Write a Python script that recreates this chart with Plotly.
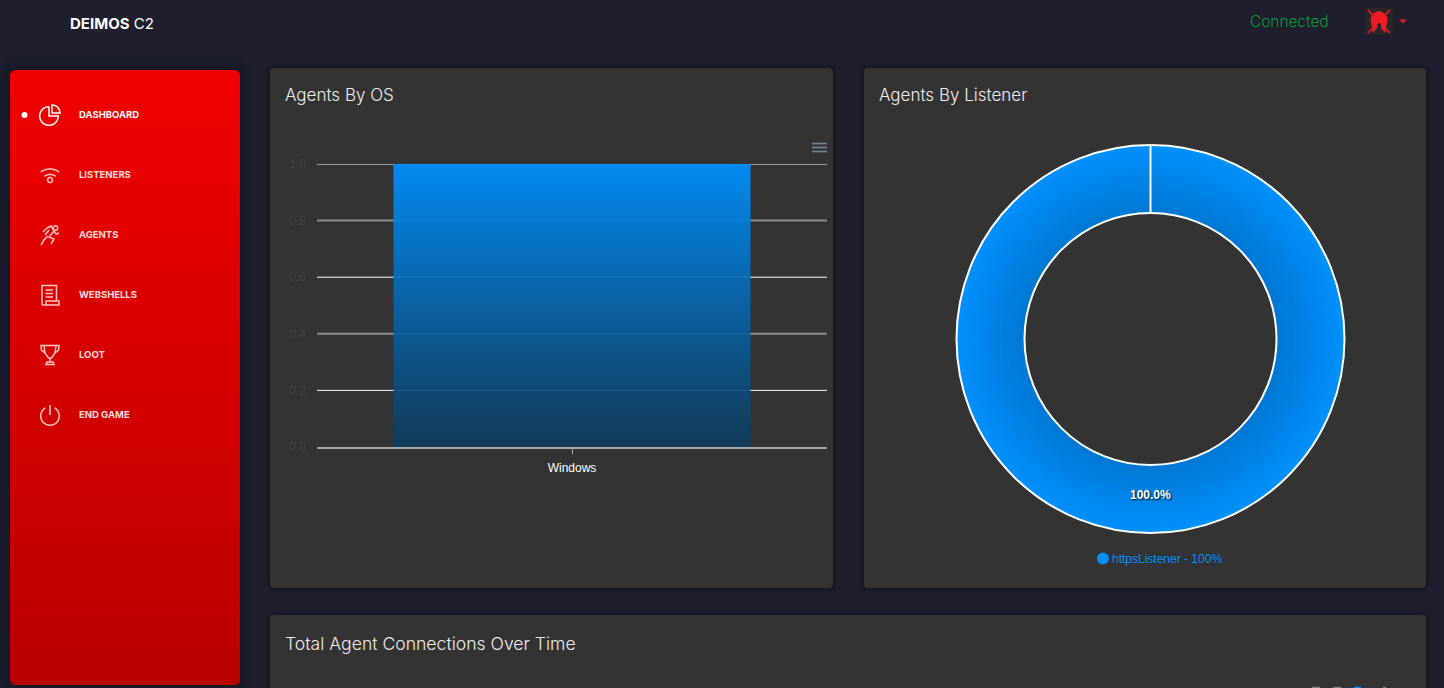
import math
import plotly.graph_objects as go

# values
os_names = ["Windows"]
os_values = [1.0]
y_ticks = [0.0, 0.2, 0.4, 0.6, 0.8, 1.0]
listener_names = ["httpsListener"]
listener_values = [100]
menu_items = ["DASHBOARD", "LISTENERS", "AGENTS", "WEBSHELLS", "LOOT", "END GAME"]

PAGE = "#1e1e2e"
PANEL = "#333333"
FONT = "Inter"
ring_colors = ["#008ffb", "#008df8", "#008bf4", "#0089f1", "#0087ed", "#0085ea", "#0083e6", "#0081e3",
               "#007fdf", "#007ddc", "#007bd8", "#0079d5"]
grid_styles = {0.2: ("#ffffff", 1), 0.4: ("#8c8c8c", 2),
               0.6: ("#ffffff", 1), 0.8: ("#8c8c8c", 2), 1.0: ("#ffffff", 1)}


def round_rect(x0, y0, x1, y1, r):
    return (f"M {x0+r} {y0} L {x1-r} {y0} Q {x1} {y0} {x1} {y0+r} L {x1} {y1-r} Q {x1} {y1} {x1-r} {y1} "
            f"L {x0+r} {y1} Q {x0} {y1} {x0} {y1-r} L {x0} {y0+r} Q {x0} {y0} {x0+r} {y0} Z")


def arc(cx, cy, r, a0, a1, n=24):
    pts = []
    for i in range(n + 1):
        a = math.radians(a0 + (a1 - a0) * i / n)
        pts.append((cx + r * math.sin(a), cy - r * math.cos(a)))
    return pts


def poly(pts, close=False):
    return "M " + " L ".join(f"{x:.1f} {y:.1f}" for x, y in pts) + (" Z" if close else "")


shapes = []


def add_path(path, color=None, width=1.5, fill=None, layer="above"):
    shapes.append(dict(type="path", path=path, xref="x", yref="y", layer=layer,
                       line=dict(color=color or "rgba(0,0,0,0)", width=width if color else 0),
                       fillcolor=fill or "rgba(0,0,0,0)"))


# soft shadows then the cards
for spread, alpha in [(14, 0.04), (10, 0.05), (6, 0.07), (3, 0.08)]:
    add_path(round_rect(10 - spread, 70 - spread, 240 + spread, 685 + spread, 6 + spread),
             fill=f"rgba(10,14,20,{alpha})", layer="below")
    add_path(round_rect(270 - spread / 2, 68 - spread / 2, 833 + spread / 2, 588 + spread / 2, 4 + spread),
             fill=f"rgba(10,14,20,{alpha})", layer="below")
    add_path(round_rect(864 - spread / 2, 68 - spread / 2, 1426 + spread / 2, 588 + spread / 2, 4 + spread),
             fill=f"rgba(10,14,20,{alpha})", layer="below")
    add_path(round_rect(270 - spread / 2, 615 - spread / 2, 1426 + spread / 2, 720, 4 + spread),
             fill=f"rgba(10,14,20,{alpha})", layer="below")
add_path(round_rect(270, 68, 833, 588, 4), fill=PANEL, layer="below")
add_path(round_rect(864, 68, 1426, 588, 4), fill=PANEL, layer="below")
add_path(round_rect(270, 615, 1426, 720, 4), fill=PANEL, layer="below")

# sidebar icons
WHITE = "#ffffff"
SOFT = "#ffc4c4"
# dashboard pie
add_path(poly(arc(49, 116, 9.3, 85, 360)), WHITE)
add_path(poly([(49, 106.7), (49, 116), (58.3, 116)]), WHITE)
add_path(poly([(52, 105)] + arc(52, 113, 8, 0, 90, 12) + [(52, 113)], True), WHITE)
# wifi
add_path(poly(arc(50, 184, 15, -38, 38)), SOFT)
add_path(poly(arc(50, 184, 9.5, -38, 38)), SOFT)
add_path(poly(arc(50, 180, 2.5, 0, 360)), SOFT)
# runner
add_path(poly(arc(55.5, 228, 2.2, 0, 360)), SOFT)
add_path(poly([(47, 228), (51, 226), (54, 231), (49, 237), (54, 239), (51, 244)]), SOFT)
add_path(poly([(48, 236), (44, 240), (41, 245)]), SOFT)
add_path(poly([(43, 232), (47, 228)]), SOFT)
add_path(poly([(54, 231), (56, 234), (59, 233)]), SOFT)
add_path(poly([(45, 235), (49, 230)]), SOFT)
# scroll
add_path(poly([(42, 305), (42, 285.5), (56.5, 285.5), (56.5, 301)]), SOFT)
add_path(poly([(42, 305), (59, 305), (59, 301), (46, 301), (46, 305)]), SOFT)
for yy in (290, 293.5, 297):
    add_path(poly([(45.5, yy), (53, yy)]), SOFT)
# trophy
add_path(poly([(44, 345.5), (56, 345.5), (55, 353), (51.5, 358), (48.5, 358), (45, 353)], True), SOFT)
add_path(poly([(44, 345.5), (41, 345.5), (41.5, 350), (45, 353)]), SOFT)
add_path(poly([(56, 345.5), (59, 345.5), (58.5, 350), (55, 353)]), SOFT)
add_path(poly([(50, 358), (50, 362)]), SOFT)
add_path(poly([(46, 364.5), (54, 364.5), (53, 362), (47, 362)], True), SOFT)
# power
add_path(poly(arc(50, 416, 9.3, 30, 330)), SOFT)
add_path(poly([(50, 405), (50, 415)]), SOFT)
# active dot
shapes.append(dict(type="circle", xref="x", yref="y", x0=21.5, x1=27.5, y0=112, y1=118,
                   fillcolor=WHITE, line_width=0, layer="above"))

# top right logo
add_path(round_rect(1365, 8, 1393, 35, 2), fill="#2a2628")
RED = "#ee1c25"
add_path(poly([(1368, 10), (1390, 33)]), RED, 1.6)
add_path(poly([(1390, 10), (1368, 33)]), RED, 1.6)
add_path(poly([(1379, 11)] + arc(1379, 20, 8.5, 20, 90, 6) + [(1385, 33), (1381, 28), (1381, 23), (1377, 23),
               (1377, 28), (1373, 33)] + arc(1379, 20, 8.5, 270, 340, 6), True), fill=RED)
add_path(poly([(1399, 19.5), (1407, 19.5), (1403, 23.5)], True), fill=RED)

# apex toolbar icon on the first chart
for yy in (143.5, 147.5, 151.5):
    add_path(poly([(812, yy), (827, yy)]), "#6e8192", 1.8)
# tops of the toolbar icons of the third chart, cut by the window
add_path(poly([(1312, 687.5), (1320, 687.5)]), "#76818a", 1.5)
add_path(poly([(1333, 687.5), (1341, 687.5)]), "#76818a", 1.5)
add_path(poly([(1354, 687.5), (1361, 687.5)]), "#008ffb", 1.5)
add_path(poly([(1383, 687.5), (1386, 687.5)]), "#76818a", 1.5)

# grid of the bar chart, colours alternate because of pixel rounding in the original
for v in y_ticks[1:]:
    col, wid = grid_styles[v]
    shapes.append(dict(type="line", xref="x2", yref="y2", x0=-0.5, x1=0.5, y0=v, y1=v,
                       layer="below", line=dict(color=col, width=wid)))

# white seam of the donut
shapes.append(dict(type="line", xref="x", yref="y", x0=1150.5, x1=1150.5, y0=145, y1=213,
                   layer="above", line=dict(color="#ffffff", width=2)))

fig = go.Figure()

# sidebar, on the pixel axes
side_x = [15, 235, 238, 240, 240, 238, 235, 15, 12, 10, 10, 12, 15]
side_y = [70, 70, 71, 74, 681, 684, 685, 685, 684, 681, 74, 71, 70]
fig.add_trace(go.Scatter(x=side_x, y=side_y, mode="lines", line_width=0, fill="toself",
                         fillgradient=dict(type="vertical",
                                           colorscale=[[0, "#b90000"], [1, "#f00000"]]),
                         hoverinfo="skip", xaxis="x", yaxis="y", showlegend=False))

# bar with its vertical gradient
bar_half = 0.35
fig.add_trace(go.Bar(x=[0], y=os_values, width=bar_half * 2, marker=dict(color="rgba(0,143,251,0.1)", line_width=0),
                     xaxis="x2", yaxis="y2", showlegend=False))
fig.add_trace(go.Scatter(x=[-bar_half, bar_half], y=[os_values[0], os_values[0]], mode="lines", line_width=0,
                         fill="tozeroy",
                         fillgradient=dict(type="vertical",
                                           colorscale=[[0, "rgba(14,58,90,0.88)"], [1, "rgba(0,143,251,0.94)"]]),
                         hoverinfo="skip", xaxis="x2", yaxis="y2", showlegend=False))

# donut, one disc per gradient step
cx, cy, r_out, r_in = 1150.5, 339, 194, 126
n = len(ring_colors)
for i, col in enumerate(ring_colors):
    r = r_out - (r_out - r_in) * i / n
    fig.add_trace(go.Pie(labels=listener_names, values=listener_values, sort=False, textinfo="none",
                         hoverinfo="skip", showlegend=False,
                         marker=dict(colors=[col], line=dict(color="#ffffff" if i == 0 else col, width=2 if i == 0 else 0)),
                         domain=dict(x=[(cx - r) / 1444, (cx + r) / 1444],
                                     y=[1 - (cy + r) / 688, 1 - (cy - r) / 688])))
fig.add_trace(go.Pie(labels=listener_names, values=listener_values, sort=False, textinfo="none",
                     hoverinfo="skip", showlegend=False,
                     marker=dict(colors=[PANEL], line=dict(color="#ffffff", width=2)),
                     domain=dict(x=[(cx - r_in) / 1444, (cx + r_in) / 1444],
                                 y=[1 - (cy + r_in) / 688, 1 - (cy - r_in) / 688])))

annotations = []


def add_text(x, y, text, size, color, family=FONT, weight=400, anchor="left", shadow=None):
    f = dict(family=family, size=size, color=color, weight=weight)
    if shadow:
        f["shadow"] = shadow
    annotations.append(dict(x=x, y=y, xref="x", yref="y", text=text, showarrow=False, xanchor=anchor,
                            yanchor="middle", font=f, borderpad=0, borderwidth=0))


add_text(70, 23, "<b>DEIMOS</b> C2", 15, "#ffffff")
add_text(1250, 21, "Connected", 15.4, "#0d9a39", weight=300)
add_text(285, 95, "Agents By OS", 17, "#eeeeee", weight=300)
add_text(879, 95, "Agents By Listener", 17, "#eeeeee", weight=300)
add_text(285, 643, "Total Agent Connections Over Time", 17.6, "#eeeeee", weight=300)
for i, name in enumerate(menu_items):
    add_text(79, 114.5 + 60 * i, name, 9.5, "#ffffff" if i == 0 else "#ffdcdc", weight=700)
add_text(cx, 495, f"{listener_values[0]:.1f}%", 12, "#ffffff", family="Liberation Sans", weight=700,
         anchor="center", shadow="1px 1px 2px #000000")
add_text(1112, 558.5, f"{listener_names[0]} - {listener_values[0]}%", 12, "#008ffb", family="Liberation Sans")
shapes.append(dict(type="circle", xref="x", yref="y", x0=1097, x1=1109, y0=552.5, y1=564.5,
                   fillcolor="#008ffb", line_width=0, layer="above"))

fig.update_layout(
    width=1444, height=688, autosize=False,
    margin=dict(l=0, r=0, t=0, b=0, autoexpand=False),
    paper_bgcolor=PAGE, plot_bgcolor="rgba(0,0,0,0)",
    xaxis=dict(domain=[0, 1], range=[0, 1444], visible=False, fixedrange=True),
    yaxis=dict(domain=[0, 1], range=[688, 0], visible=False, fixedrange=True),
    xaxis2=dict(domain=[317 / 1444, 827 / 1444], range=[-0.5, 0.5], anchor="y2",
                tickmode="array", tickvals=[0], ticktext=os_names, showgrid=False, zeroline=False,
                ticks="outside", ticklen=5, tickcolor="#a8a8a8", tickwidth=1,
                showline=True, linecolor="#a8a8a8", linewidth=2, ticklabelstandoff=4,
                tickfont=dict(family="Liberation Sans", size=12, color="#ffffff")),
    yaxis2=dict(domain=[1 - 447 / 688, 1 - 164 / 688], range=[0, 1], anchor="x2",
                tickmode="array", tickvals=y_ticks, ticktext=[f"{v:.1f}" for v in y_ticks],
                showgrid=False, zeroline=False, ticklabelstandoff=10,
                tickfont=dict(family="Liberation Sans", size=12, color="#3f4347")),
    shapes=shapes, annotations=annotations,
)

fig.write_html("out.html", config=dict(displayModeBar=False),
               post_script="document.body.style.margin='0';document.body.style.overflow='hidden';")
